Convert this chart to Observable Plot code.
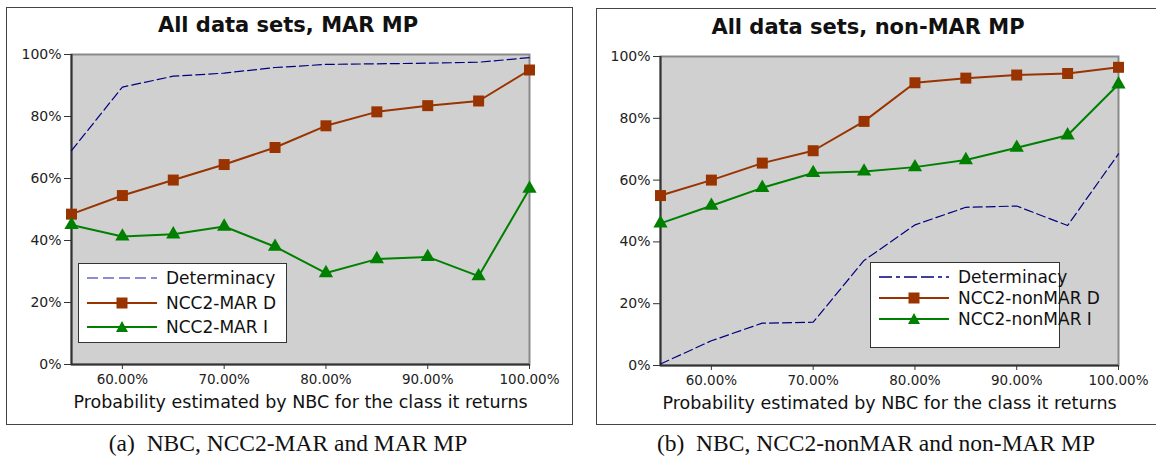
<!DOCTYPE html>
<html><head><meta charset="utf-8">
<script src="https://cdn.jsdelivr.net/npm/d3@7"></script>
<script src="https://cdn.jsdelivr.net/npm/@observablehq/plot@0.6"></script>
<style>
html,body{margin:0;padding:0;background:#fff}
body{width:1156px;height:459px;position:relative;overflow:hidden;font-family:"DejaVu Sans",sans-serif;color:#111}
.panel{position:absolute;border:1.5px solid #444;box-sizing:border-box;background:#fff}
.title{position:absolute;font-weight:bold;font-size:21px;line-height:26px;text-align:center;white-space:nowrap}
.chart{position:absolute}
.legend{position:absolute;background:#fff;border:1.3px solid #333;box-sizing:border-box;padding:3px 8px}
.legend .row{display:flex;align-items:center;font-size:17px;white-space:nowrap}
.legend svg{margin-right:9px;flex:none}
.caption{position:absolute;font-family:"Liberation Serif",serif;font-size:23.5px;line-height:28px;text-align:center;white-space:nowrap}
</style></head>
<body>
<script>
// ---- data ----
const xValues = [55, 60, 65, 70, 75, 80, 85, 90, 95, 100];
const xTicks = [60, 70, 80, 90, 100];
const yTicks = [0, 20, 40, 60, 80, 100];

const marDeterminacy = [69, 89.5, 93, 94, 95.8, 96.8, 97, 97.2, 97.5, 99];
const marNcc2D      = [48.5, 54.5, 59.5, 64.5, 70, 77, 81.5, 83.5, 85, 95];
const marNcc2I      = [45, 41.3, 42, 44.5, 38, 29.5, 34, 34.7, 28.5, 56.7];

const nonMarDeterminacy = [0.5, 8, 13.7, 14, 34, 45.5, 51.2, 51.6, 45.3, 68.5];
const nonMarNcc2D       = [55, 60, 65.5, 69.5, 79, 91.5, 93, 94, 94.5, 96.5];
const nonMarNcc2I       = [46, 51.7, 57.5, 62.3, 62.8, 64.2, 66.5, 70.5, 74.5, 91];

const leftTitle = "All data sets, MAR MP";
const rightTitle = "All data sets, non-MAR MP";
const leftLabels = ["Determinacy", "NCC2-MAR D", "NCC2-MAR I"];
const rightLabels = ["Determinacy", "NCC2-nonMAR D", "NCC2-nonMAR I"];
const xLabel = "Probability estimated by NBC for the class it returns";
const leftCaption = "(a)\u2002NBC, NCC2-MAR and MAR MP";
const rightCaption = "(b)\u2002NBC, NCC2-nonMAR and non-MAR MP";

// ---- styles ----
const COL_DET = "#000080", COL_D = "#993300", COL_I = "#008000";

function el(tag, cls, css, text) {
  const e = document.createElement(tag);
  if (cls) e.className = cls;
  Object.assign(e.style, css || {});
  if (text != null) e.textContent = text;
  document.body.appendChild(e);
  return e;
}

function swatch(kind, detColor, detDash) {
  const ns = "http://www.w3.org/2000/svg";
  const s = document.createElementNS(ns, "svg");
  s.setAttribute("width", 70); s.setAttribute("height", 14);
  const l = document.createElementNS(ns, "line");
  l.setAttribute("x1", 0); l.setAttribute("x2", 70); l.setAttribute("y1", 7); l.setAttribute("y2", 7);
  if (kind === 0) { l.setAttribute("stroke", detColor); l.setAttribute("stroke-width", 1.3); l.setAttribute("stroke-dasharray", detDash); }
  else { l.setAttribute("stroke", kind === 1 ? COL_D : COL_I); l.setAttribute("stroke-width", 2); }
  s.appendChild(l);
  if (kind === 1) {
    const r = document.createElementNS(ns, "rect");
    r.setAttribute("x", 29.5); r.setAttribute("y", 1.5); r.setAttribute("width", 11); r.setAttribute("height", 11); r.setAttribute("fill", COL_D);
    s.appendChild(r);
  } else if (kind === 2) {
    const p = document.createElementNS(ns, "path");
    p.setAttribute("d", "M35,1 L41,12 L29,12 Z"); p.setAttribute("fill", COL_I);
    s.appendChild(p);
  }
  return s;
}

function makePanel(o) {
  el("div", "panel", {left: o.box[0] + "px", top: o.box[1] + "px", width: o.box[2] + "px", height: o.box[3] + "px"});
  el("div", "title", {left: (o.titleX - 250) + "px", width: "500px", top: (o.titleY - 13) + "px"}, o.title);

  const rows = [];
  const series = [["det", o.det], ["D", o.d], ["I", o.i]];
  for (const [key, vals] of series) xValues.forEach((x, k) => rows.push({key, x, y: vals[k]}));
  const det = rows.filter(r => r.key === "det"), dD = rows.filter(r => r.key === "D"), dI = rows.filter(r => r.key === "I");

  const [px0, py0, px1, py1] = o.plotArea; // page coords
  const svgLeft = o.box[0], svgTop = o.box[1] + 20, svgW = o.box[2], svgH = 385;
  const chart = Plot.plot({
    width: svgW, height: svgH,
    marginLeft: px0 - svgLeft, marginRight: svgLeft + svgW - px1,
    marginTop: py0 - svgTop, marginBottom: svgTop + svgH - py1,
    style: {fontFamily: "DejaVu Sans", fontSize: "13.5px", color: "#222", background: "transparent", overflow: "visible"},
    x: {domain: [55, 100]},
    y: {domain: [0, 100]},
    marks: [
      Plot.frame({fill: "#d0d0d0"}),
      Plot.frame({stroke: "#8a8a8a", strokeWidth: 2}),
      Plot.ruleX([55], {stroke: "#333", strokeWidth: 2}),
      Plot.ruleY([0], {stroke: "#333", strokeWidth: 2}),
      Plot.axisY({ticks: yTicks, tickFormat: d => d + "%", tickSize: 7, tickPadding: 3, stroke: "#333", fontSize: 14, label: null}),
      Plot.axisX({ticks: xTicks, tickFormat: d => d.toFixed(2) + "%", tickSize: 5, tickPadding: 5, stroke: "#333", label: null}),
      Plot.line(det, {x: "x", y: "y", stroke: COL_DET, strokeWidth: 1.2, strokeDasharray: "9,4"}),
      Plot.line(dD, {x: "x", y: "y", stroke: COL_D, strokeWidth: 2}),
      Plot.dot(dD, {x: "x", y: "y", symbol: "square", r: 6.2, fill: COL_D}),
      Plot.line(dI, {x: "x", y: "y", stroke: COL_I, strokeWidth: 2}),
      Plot.dot(dI, {x: "x", y: "y", symbol: "triangle", r: 5.3, fill: COL_I}),
      Plot.text([xLabel], {frameAnchor: "bottom", dy: 43, fontSize: 17.5, fill: "#111", text: d => d})
    ]
  });
  chart.classList.add("chart");
  Object.assign(chart.style, {left: svgLeft + "px", top: svgTop + "px"});
  document.body.appendChild(chart);

  const lg = el("div", "legend", {left: o.legend[0] + "px", top: o.legend[1] + "px", width: o.legend[2] + "px", height: o.legend[3] + "px", paddingTop: o.legendPad + "px"});
  o.labels.forEach((lab, k) => {
    const row = document.createElement("div");
    row.className = "row";
    row.style.height = o.rowH + "px";
    row.appendChild(swatch(k, o.detSwatch, o.detDash));
    const t = document.createElement("span"); t.textContent = lab; row.appendChild(t);
    lg.appendChild(row);
  });

  el("div", "caption", {left: (o.captionX - 300) + "px", width: "600px", top: (o.captionY - 14) + "px"}, o.caption);
}

makePanel({box: [6, 7, 567, 418], title: leftTitle, titleX: 288, titleY: 25,
  det: marDeterminacy, d: marNcc2D, i: marNcc2I,
  plotArea: [71, 54, 529, 364], legend: [78, 263, 209, 80], legendPad: 2, rowH: 24.5, labels: leftLabels,
  detSwatch: "#6666cc", detDash: "11,5",
  caption: leftCaption, captionX: 288, captionY: 443});

makePanel({box: [596, 8, 562, 417], title: rightTitle, titleX: 868, titleY: 27,
  det: nonMarDeterminacy, d: nonMarNcc2D, i: nonMarNcc2I,
  plotArea: [660, 56, 1118, 365], legend: [870, 262, 190, 86], legendPad: 3, rowH: 21, labels: rightLabels,
  detSwatch: COL_DET, detDash: "13,4,4,4,13,4",
  caption: rightCaption, captionX: 876, captionY: 443});
</script>
</body></html>
